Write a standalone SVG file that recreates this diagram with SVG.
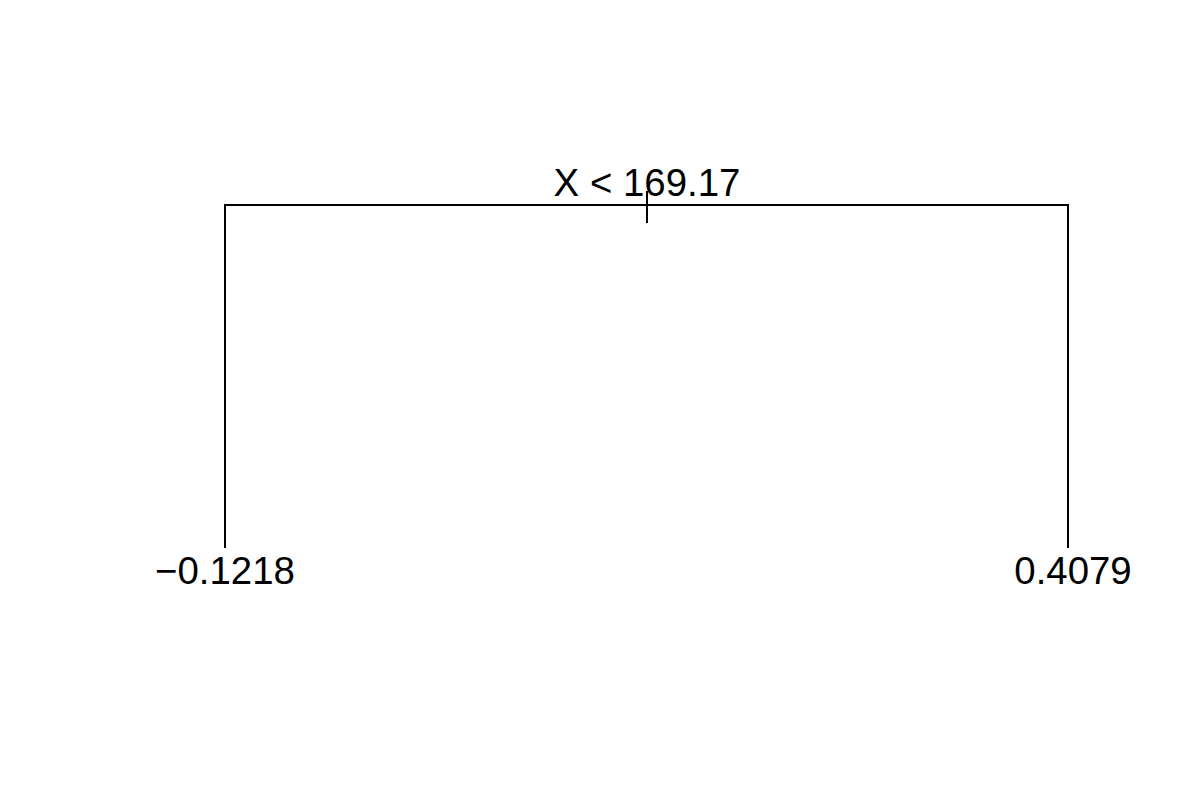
<svg xmlns="http://www.w3.org/2000/svg" width="1200" height="800" viewBox="0 0 1200 800">
<style>
.l{stroke:#000;stroke-width:2;fill:none;stroke-linecap:butt}
.t{font-family:"Liberation Sans",Arial,sans-serif;font-size:38.4px;fill:#000;text-anchor:middle}
</style>
<rect width="1200" height="800" fill="#fff"/>
<g id="connectors">
<polyline class="l" points="225,548 225,205 1068,205 1068,548"/>
<line class="l" x1="647" y1="191" x2="647" y2="223"/>
</g>
<g id="root"><text class="t" x="647" y="196">X &lt; 169.17</text></g>
<g id="leaf-left"><text class="t" x="225" y="584">−0.1218</text></g>
<g id="leaf-right"><text class="t" x="1073" y="584">0.4079</text></g>
</svg>
